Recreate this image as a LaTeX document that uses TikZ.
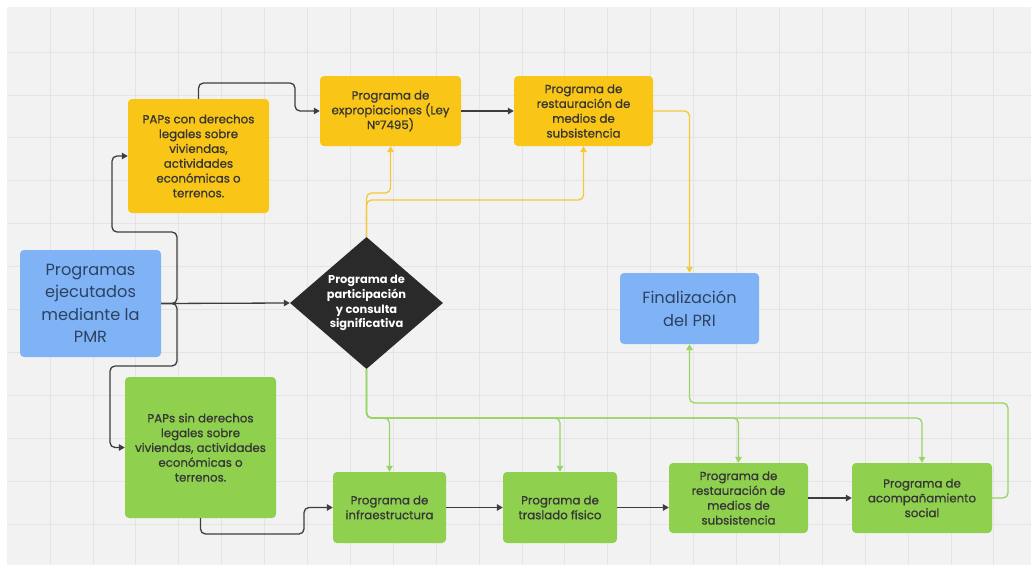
\documentclass[tikz,border=0pt]{standalone}
\usepackage{fontspec}
\setmainfont{Poppins}
\newfontfamily\cardfont{Poppins}[FakeBold=0.8]
\usetikzlibrary{arrows.meta,shapes.geometric}
\definecolor{canvas}{HTML}{F2F2F2}
\definecolor{gridline}{HTML}{E4E4E4}
\definecolor{boxyellow}{HTML}{F9C516}
\definecolor{boxgreen}{HTML}{8FD14F}
\definecolor{boxblue}{HTML}{80B3F6}
\definecolor{boxdark}{HTML}{2A2A2A}
\definecolor{textdark}{HTML}{363636}
\definecolor{textblue}{HTML}{2B4262}
\definecolor{linedark}{HTML}{3D3D3D}
\definecolor{lineyellow}{HTML}{F5C83A}
\definecolor{linegreen}{HTML}{9AD463}
\tikzset{
  card/.style={rectangle, rounded corners=4pt, inner sep=0pt, align=center,
    text=textdark, font=\cardfont\fontsize{11.8}{14.8}\selectfont},
  yellowcard/.style={card, fill=boxyellow},
  greencard/.style={card, fill=boxgreen},
  bluecard/.style={rectangle, rounded corners=4pt, inner sep=0pt, align=center,
    fill=boxblue, text=textblue, font=\fontsize{16.2}{22.5}\selectfont},
  conn/.style={line width=1.3pt, rounded corners=5pt,
    -{Triangle[length=6pt,width=6.5pt]}},
  darkconn/.style={conn, draw=linedark},
  yellowconn/.style={conn, draw=lineyellow},
  greenconn/.style={conn, draw=linegreen},
}
\begin{document}
\begin{tikzpicture}[x=1pt, y=-1pt]
  % canvas with its faint grid
  \fill[white] (0,0) rectangle (1031,565);
  \fill[canvas] (7,7) rectangle (1031,565);
  \begin{scope}
    \clip (7,7) rectangle (1031,565);
    \foreach \k in {0,...,23} {
      \draw[gridline, line width=0.8pt] ({50+42.9*\k},7) -- ({50+42.9*\k},565);
    }
    \foreach \k in {0,...,12} {
      \draw[gridline, line width=0.8pt] (7,{52+42.9*\k}) -- (1031,{52+42.9*\k});
    }
  \end{scope}
  \useasboundingbox (0,0) rectangle (1031,565);

  % boxes
  \node[bluecard, minimum width=141pt, minimum height=107pt] (pmr) at (90.5,303.5)
    {Programas\\ejecutados\\mediante la\\PMR};
  \node[yellowcard, minimum width=141pt, minimum height=114pt] (papcon) at (198.5,156)
    {PAPs con derechos\\legales sobre\\viviendas,\\actividades\\económicas o\\terrenos.};
  \node[yellowcard, minimum width=141pt, minimum height=70pt] (expro) at (390.5,111)
    {Programa de\\expropiaciones (Ley\\N°7495)};
  \node[yellowcard, minimum width=139pt, minimum height=70pt] (restA) at (583.5,111)
    {Programa de\\restauración de\\medios de\\subsistencia};
  \node[diamond, fill=boxdark, minimum width=153pt, minimum height=132pt, inner sep=0pt,
    label={[text=white, align=center, font=\bfseries\fontsize{11.4}{14.8}\selectfont]center:Programa de\\participación\\y consulta\\significativa}]
    (diam) at (366.5,303) {};
  \node[bluecard, minimum width=139pt, minimum height=71pt] (final) at (689.5,308.5)
    {Finalización\\del PRI};
  \node[greencard, minimum width=151pt, minimum height=141pt] (papsin) at (200.5,447.5)
    {PAPs sin derechos\\legales sobre\\viviendas, actividades\\económicas o\\terrenos.};
  \node[greencard, minimum width=113pt, minimum height=71pt] (infra) at (389.5,507.5)
    {Programa de\\infraestructura};
  \node[greencard, minimum width=114pt, minimum height=71pt] (trasl) at (560,507.5)
    {Programa de\\traslado físico};
  \node[greencard, minimum width=139pt, minimum height=70pt] (restB) at (738.5,498)
    {Programa de\\restauración de\\medios de\\subsistencia};
  \node[greencard, minimum width=140pt, minimum height=70pt] (acomp) at (922,498)
    {Programa de\\acompañamiento\\social};

  % dark connectors
  \draw[darkconn] (pmr.east) -- (diam.west);
  \draw[darkconn] (pmr.east) -- (177,303.5) -- (177,232) -- (112,232) |- (papcon.west);
  \draw[darkconn] (pmr.east) -- (177,303.5) -- (177,366) -- (110,366) |- (papsin.west);
  \draw[darkconn] (papcon.north) -- (198.5,83) -- (295,83) |- (expro.west);
  \draw[darkconn] (expro.east) -- (restA.west);
  \draw[darkconn] (papsin.south) -- (200.5,534) -- (304,534) |- (infra.west);
  \draw[darkconn] (infra.east) -- (trasl.west);
  \draw[darkconn] (trasl.east) -- (restB.west |- trasl.east);
  \draw[darkconn] (restB.east) -- (acomp.west);

  % yellow connectors
  \draw[yellowconn] (diam.north) -- (366.5,193) -| (expro.south);
  \draw[yellowconn] (diam.north) -- (366.5,200) -| (restA.south);
  \draw[yellowconn] (restA.east) -| (final.north);

  % green connectors
  \draw[greenconn] (diam.south) -- (366.5,418) -| (infra.north);
  \draw[greenconn] (diam.south) -- (366.5,418) -| (trasl.north);
  \draw[greenconn] (diam.south) -- (366.5,418) -| (restB.north);
  \draw[greenconn] (diam.south) -- (366.5,418) -| (acomp.north);
  \draw[greenconn] (acomp.east) -- (1008,498) -- (1008,403) -| (final.south);
\end{tikzpicture}
\end{document}
